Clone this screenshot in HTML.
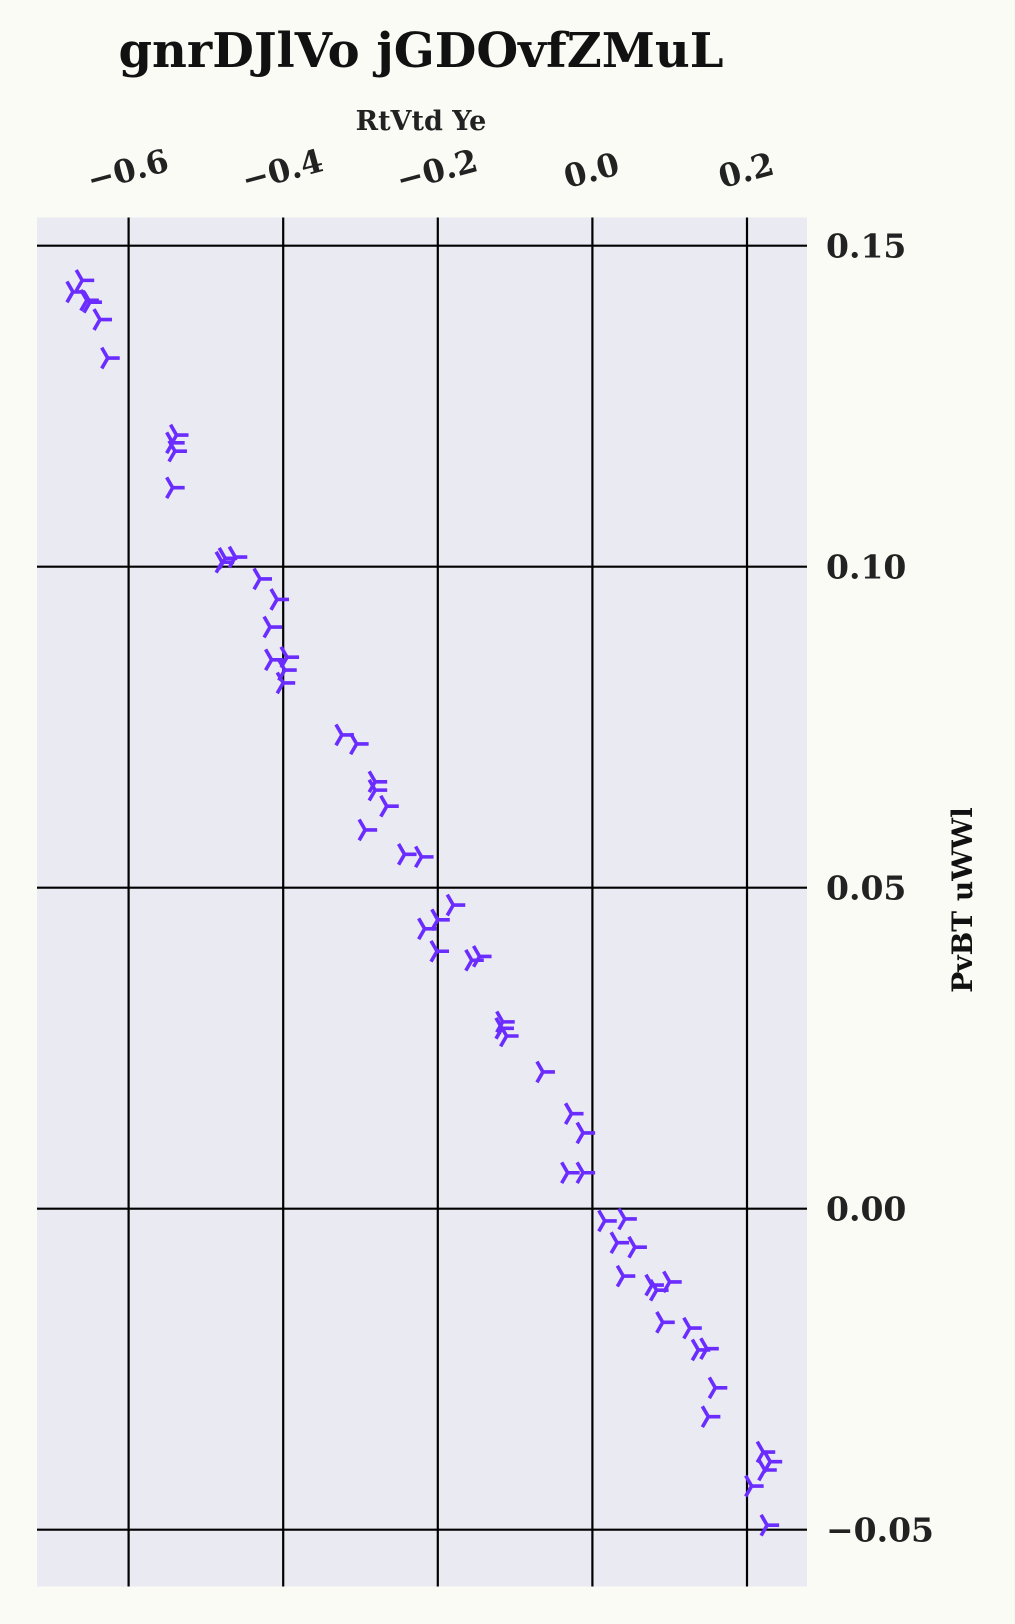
<!DOCTYPE html>
<html><head><meta charset="utf-8"><style>
html,body{margin:0;padding:0;background:#fafbf5;}
svg{display:block;font-family:"DejaVu Serif","Liberation Serif",serif;}
</style></head><body>
<svg id="chart" width="1015" height="1624" viewBox="0 0 1015 1624">
<rect x="0" y="0" width="1015" height="1624" fill="#fafbf5"/>
<text x="421" y="67" text-anchor="middle" font-size="48" font-weight="bold" fill="#111">gnrDJlVo jGDOvfZMuL</text>
<text x="421" y="130" text-anchor="middle" font-size="27" font-weight="bold" fill="#222">RtVtd Ye</text>
<text transform="translate(972,900) rotate(-90)" text-anchor="middle" font-size="28" font-weight="bold" fill="#111">PvBT uWWl</text>
<rect x="37" y="217.5" width="770" height="1369" fill="#eaeaf2"/>
<g id="grid"></g>
<g id="marks"></g>
<g id="ticks"></g>
</svg>
<script>
const xTicks = [-0.6, -0.4, -0.2, 0.0, 0.2];
const xTickLabels = ["\u22120.6", "\u22120.4", "\u22120.2", "0.0", "0.2"];
const yTicks = [0.15, 0.10, 0.05, 0.00, -0.05];
const yTickLabels = ["0.15", "0.10", "0.05", "0.00", "\u22120.05"];
const xValues = [-0.660,-0.672,-0.654,-0.650,-0.637,-0.627,-0.538,-0.543,-0.540,-0.543,
-0.475,-0.462,-0.479,-0.430,-0.408,-0.417,-0.415,-0.395,-0.398,-0.400,
-0.324,-0.305,-0.281,-0.281,-0.266,-0.294,-0.243,-0.221,-0.180,-0.200,
-0.217,-0.201,-0.146,-0.156,-0.116,-0.117,-0.111,-0.064,-0.027,-0.012,
-0.032,-0.012,0.016,0.042,0.032,0.055,0.040,0.077,0.100,0.083,
0.091,0.126,0.137,0.148,0.159,0.150,0.221,0.230,0.223,0.206,0.226];
const yValues = [0.1446,0.1428,0.1415,0.1412,0.1385,0.1325,0.1205,0.1193,0.1180,0.1123,
0.1013,0.1015,0.1007,0.0981,0.0949,0.0906,0.0855,0.0859,0.0839,0.0819,
0.0738,0.0724,0.0665,0.0652,0.0627,0.0590,0.0552,0.0548,0.0473,0.0450,
0.0436,0.0401,0.0393,0.0387,0.0291,0.0281,0.0269,0.0213,0.0148,0.0118,
0.0056,0.0056,-0.0019,-0.0016,-0.0053,-0.0060,-0.0105,-0.0119,-0.0114,-0.0127,
-0.0177,-0.0186,-0.0220,-0.0218,-0.0279,-0.0324,-0.0379,-0.0394,-0.0407,-0.0432,-0.0493];

const NS = "http://www.w3.org/2000/svg";
const X0 = 37, X1 = 807, Y0 = 217.5, Y1 = 1586.5;
function sx(v){ return 592.4 + v * 773; }
function sy(v){ return 1208.7 - v * 6420; }
function mk(tag, attrs, parent){
  const e = document.createElementNS(NS, tag);
  for (const k in attrs) e.setAttribute(k, attrs[k]);
  parent.appendChild(e);
  return e;
}
const grid = document.getElementById('grid');
const ticks = document.getElementById('ticks');
const marks = document.getElementById('marks');

xTicks.forEach((t, i) => {
  const x = sx(t);
  const l = mk('line', {x1:x, x2:x, y1:Y0, y2:Y1, stroke:'#000', 'stroke-width':2.2}, grid);
  
  
  const tx = mk('text', {transform:`translate(${x+2},${181}) rotate(-15)`, 'text-anchor':'middle', 'font-size':32, 'font-weight':'bold', fill:'#222'}, ticks);
  tx.textContent = xTickLabels[i];
  
  
});
yTicks.forEach((t, i) => {
  const y = sy(t);
  const l = mk('line', {x1:X0, x2:X1, y1:y, y2:y, stroke:'#000', 'stroke-width':2.2}, grid);
  
  
  const tx = mk('text', {x:826, y:y+12, 'font-size':33, 'font-weight':'bold', fill:'#222'}, ticks);
  tx.textContent = yTickLabels[i];
  
  
});
const L = 12;
xValues.forEach((v, i) => {
  const cx = sx(v), cy = sy(yValues[i]);
  const d = `M${cx},${cy}L${cx+L},${cy}M${cx},${cy}L${cx-L*0.5},${cy-L*0.866}M${cx},${cy}L${cx-L*0.5},${cy+L*0.866}`;
  const p = mk('path', {d:d, stroke:'#6a2cff', 'stroke-width':3.6, fill:'none'}, marks);
  
  
});
</script>
</body></html>
